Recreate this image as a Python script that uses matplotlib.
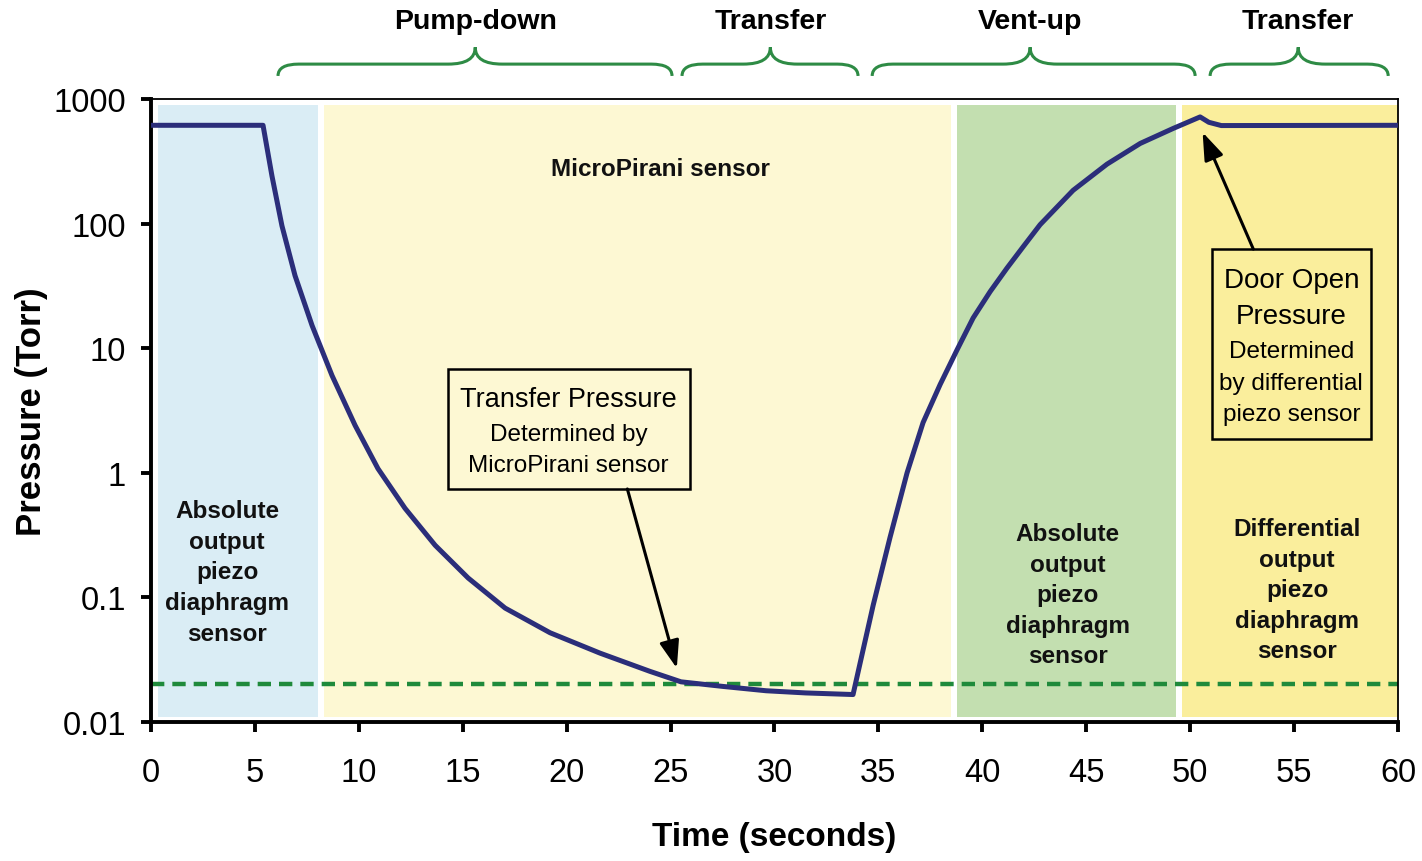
import numpy as np
import matplotlib.pyplot as plt
import matplotlib.transforms as mtransforms
from matplotlib.path import Path
from matplotlib.patches import PathPatch, Rectangle
from matplotlib.ticker import NullLocator

plt.rcParams['font.family'] = ['Liberation Sans', 'DejaVu Sans']

# pressure curve
time_s = [0, 5.39, 5.82, 6.30, 6.93, 7.75, 8.71, 9.82, 10.92, 12.22, 13.67, 15.26, 17.04,
          19.2, 21.6, 24.0, 25.5, 27.5, 29.6, 31.5, 33.78, 34.12, 34.75, 35.56, 36.38,
          37.15, 37.97, 38.79, 39.56, 40.38, 41.19, 41.96, 42.78, 44.37, 46.0, 47.6,
          49.18, 50.48, 50.9, 51.5, 60]
pressure = [615, 615, 241, 96, 38.2, 15.2, 6.03, 2.40, 1.08, 0.519, 0.262, 0.143, 0.082,
            0.052, 0.0357, 0.0255, 0.021, 0.0193, 0.0178, 0.0171, 0.0166, 0.0297, 0.0867,
            0.303, 1.0, 2.53, 5.11, 9.74, 17.5, 28.5, 44, 65, 98, 185, 300, 440,
            580, 718, 650, 612, 615]
transfer_pressure = 0.02

# sensor regions
band_start = [0.35, 8.3, 38.8, 49.6]
band_end = [8.05, 38.5, 49.3, 60]
band_color = ['#DAEDF5', '#FDF8D3', '#C3DFB0', '#FAEE9C']
band_text = ['Absolute\noutput\npiezo\ndiaphragm\nsensor',
             'MicroPirani sensor',
             'Absolute\noutput\npiezo\ndiaphragm\nsensor',
             'Differential\noutput\npiezo\ndiaphragm\nsensor']
band_text_x = [3.66, 24.5, 44.1, 55.15]
band_text_y = [0.16, 275, 0.105, 0.115]

# phases shown with braces above the plot
phase_names = ['Pump-down', 'Transfer', 'Vent-up', 'Transfer']
phase_start = [6.11, 25.55, 34.7, 50.96]
phase_end = [25.07, 34.02, 50.24, 59.53]
phase_mid = [15.6, 29.8, 42.3, 55.2]

y_ticks = [0.01, 0.1, 1, 10, 100, 1000]
y_tick_labels = ['0.01', '0.1', '1', '10', '100', '1000']

fig = plt.figure(figsize=(14.22, 8.62), dpi=100)
ax = fig.add_axes([0.1062, 0.1613, 0.8769, 0.7227])

for s, e, c in zip(band_start, band_end, band_color):
    ax.axvspan(s, e, ymin=0.008, ymax=0.99, color=c, lw=0, zorder=0)

ax.axhline(transfer_pressure, color='#1F8A3B', lw=3.2, dashes=(3, 1.8), zorder=2)
ax.plot(time_s, pressure, color='#2B2E7A', lw=3.6, zorder=3,
        solid_joinstyle='round', solid_capstyle='butt')

ax.set_yscale('log')
ax.set_xlim(0, 60)
ax.set_ylim(0.01, 1000)
ax.set_yticks(y_ticks)
ax.set_yticklabels(y_tick_labels)
ax.yaxis.set_minor_locator(NullLocator())
ax.set_xticks(range(0, 61, 5))
ax.tick_params(axis='both', labelsize=23.5, length=7, width=2.8, direction='out')
ax.tick_params(axis='y', pad=11)
ax.tick_params(axis='x', pad=18)
for side in ['left', 'bottom']:
    ax.spines[side].set_linewidth(2.8)
for side in ['top', 'right']:
    ax.spines[side].set_linewidth(1.3)

ax.set_xlabel('Time (seconds)', fontsize=24, fontweight='bold', labelpad=24)
ax.set_ylabel('Pressure (Torr)', fontsize=25, fontweight='bold', labelpad=4)

for tx, ty, txt in zip(band_text_x, band_text_y, band_text):
    ax.text(tx, ty, txt, ha='center', va='center', fontsize=17.5, fontweight='bold',
            linespacing=1.42, color='#111111', zorder=4)

# braces
trans = mtransforms.blended_transform_factory(ax.transData, ax.transAxes)
y0, y1, y2 = 1.037, 1.056, 1.083
w, w2 = 1.0, 1.3
for x0, x1, xc, name in zip(phase_start, phase_end, phase_mid, phase_names):
    verts = [(x0, y0), (x0, y1), (x0 + w, y1), (xc - w2, y1), (xc, y1), (xc, y2),
             (xc, y1), (xc + w2, y1), (x1 - w, y1), (x1, y1), (x1, y0)]
    codes = [Path.MOVETO, Path.CURVE3, Path.CURVE3, Path.LINETO, Path.CURVE3, Path.CURVE3,
             Path.CURVE3, Path.CURVE3, Path.LINETO, Path.CURVE3, Path.CURVE3]
    ax.add_patch(PathPatch(Path(verts, codes), transform=trans, fill=False,
                           edgecolor='#2E8B45', lw=2.2, clip_on=False))
    ax.text(xc, 1.125, name, transform=trans, ha='center', va='center',
            fontsize=20.5, fontweight='bold')

arrow_style = dict(arrowstyle='-|>,head_length=0.7,head_width=0.25', color='black',
                   lw=2.2, mutation_scale=24, shrinkA=0, shrinkB=0)

# annotation boxes
ax.add_patch(Rectangle((0.238, 0.374), 0.194, 0.193, transform=ax.transAxes,
                       facecolor='#FDF8D3', edgecolor='black', lw=1.8, zorder=5))
ax.text(0.335, 0.518, 'Transfer Pressure', transform=ax.transAxes, ha='center',
        va='center', fontsize=19.5, zorder=6)
ax.text(0.335, 0.462, 'Determined by', transform=ax.transAxes, ha='center',
        va='center', fontsize=17.5, zorder=6)
ax.text(0.335, 0.413, 'MicroPirani sensor', transform=ax.transAxes, ha='center',
        va='center', fontsize=17.5, zorder=6)
ax.annotate('', xy=(25.3, 0.027), xytext=(0.382, 0.374), textcoords='axes fraction',
            arrowprops=arrow_style, zorder=6)

ax.add_patch(Rectangle((0.851, 0.454), 0.127, 0.305, transform=ax.transAxes,
                       facecolor='#FAEE9C', edgecolor='black', lw=1.8, zorder=5))
for yy, txt, fs in zip([0.709, 0.652, 0.596, 0.544, 0.494],
                       ['Door Open', 'Pressure', 'Determined', 'by differential',
                        'piezo sensor'],
                       [20, 20, 17.5, 17.5, 17.5]):
    ax.text(0.9145, yy, txt, transform=ax.transAxes, ha='center', va='center',
            fontsize=fs, zorder=6)
ax.annotate('', xy=(50.6, 540), xytext=(0.884, 0.759), textcoords='axes fraction',
            arrowprops=arrow_style, zorder=6)

fig.savefig('out.png', dpi=100)
